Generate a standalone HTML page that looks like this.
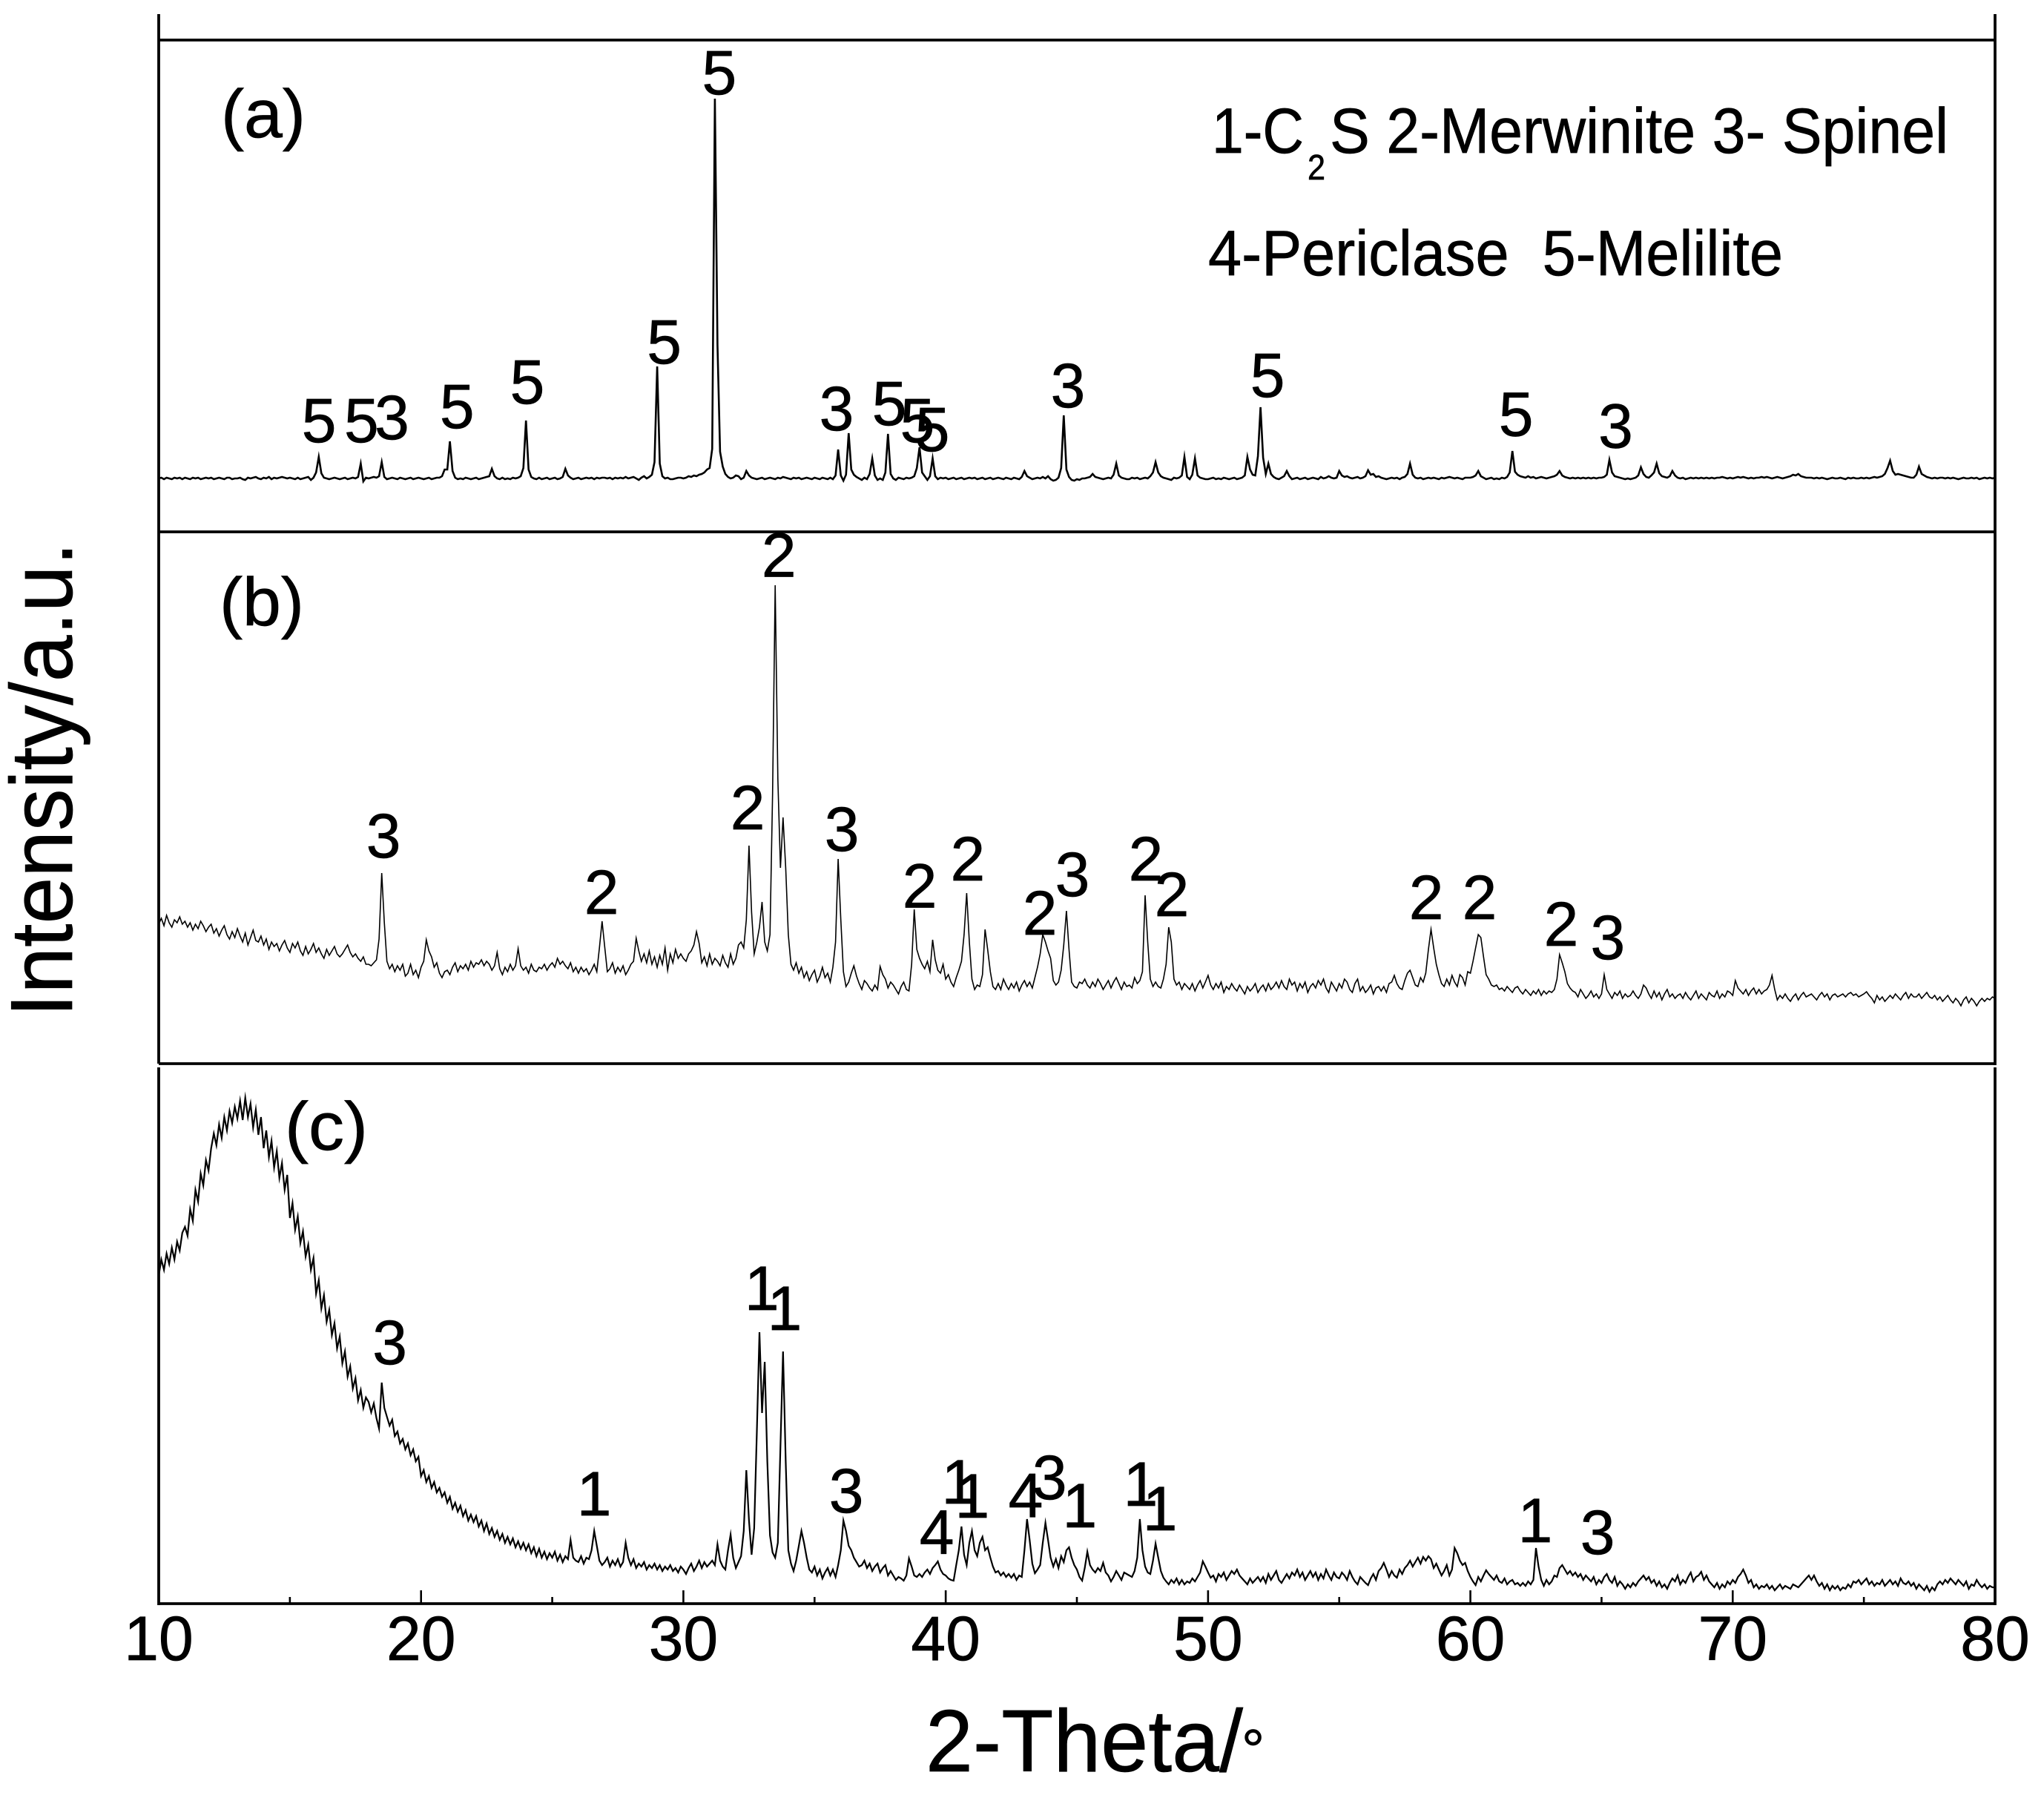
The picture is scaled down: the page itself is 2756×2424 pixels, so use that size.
<!DOCTYPE html>
<html lang="en">
<head>
<meta charset="utf-8">
<title>XRD patterns of samples a, b and c</title>
<style>
html,body{margin:0;padding:0;background:#fff;}
svg{display:block;}
text{font-family:"Liberation Sans",sans-serif;fill:#000;stroke:#000;stroke-width:0.7;}
</style>
</head>
<body>
<svg id="chart" xmlns="http://www.w3.org/2000/svg" width="2756" height="2424" viewBox="0 0 2756 2424">
  <rect x="0" y="0" width="2756" height="2424" fill="#fff"/>
  <g>
    <text x="1634" y="206" font-size="86" textLength="124" lengthAdjust="spacingAndGlyphs">1-C</text>
    <text x="1763" y="242" font-size="48" textLength="24" lengthAdjust="spacingAndGlyphs">2</text>
    <text x="1793" y="206" font-size="86" textLength="834" lengthAdjust="spacingAndGlyphs">S 2-Merwinite 3- Spinel</text>
    <text x="1629" y="371" font-size="86" textLength="775" lengthAdjust="spacingAndGlyphs" xml:space="preserve">4-Periclase  5-Melilite</text>
  </g>
  <text x="298" y="185" font-size="92" textLength="114" lengthAdjust="spacingAndGlyphs">(a)</text>
  <text x="296" y="843" font-size="92" textLength="114" lengthAdjust="spacingAndGlyphs">(b)</text>
  <text x="384" y="1550" font-size="92" textLength="112" lengthAdjust="spacingAndGlyphs">(c)</text>
  <text transform="translate(97,1371) rotate(-90)" x="0" y="0" font-size="119" textLength="640" lengthAdjust="spacingAndGlyphs">Intensity/a.u.</text>
  <text x="1248" y="2388" font-size="119" textLength="428" lengthAdjust="spacingAndGlyphs">2-Theta/</text>
  <text x="1674" y="2386" font-size="78">°</text>
</svg>
<script>
// Intensity rows: one row per degree of 2-theta, ten readings each (0.1 degree apart), final row is 80.0.
const thetaStart = 10;
const thetaStep = 0.1;
const intensityA = [
/*10*/0,1,-1,1,0,-1,1,0,1,-1,
/*11*/1,0,-1,1,0,1,-1,0,1,0,
/*12*/1,-1,0,1,0,-1,1,1,-1,0,
/*13*/0,1,-1,-2,1,0,1,2,0,-1,
/*14*/1,0,2,-1,1,0,1,2,1,0,
/*15*/1,0,-1,1,-1,0,1,2,-2,1,
/*16*/8,29,7,1,0,-1,0,1,0,-1,
/*17*/0,1,-1,0,1,0,2,20,-4,1,
/*18*/0,1,2,1,3,22,2,-1,0,1,
/*19*/0,-1,1,0,-1,0,1,-1,0,1,
/*20*/0,-1,0,1,-1,0,1,1,3,12,
/*21*/12,50,10,1,-1,0,-1,1,0,-1,
/*22*/0,1,-1,0,1,2,3,13,3,0,
/*23*/-1,1,-1,0,-1,1,0,1,3,14,
/*24*/78,12,2,0,-1,1,-1,0,1,-1,
/*25*/0,1,-1,0,2,13,4,1,-1,0,
/*26*/1,-1,0,1,0,1,-1,1,0,1,
/*27*/1,0,1,-1,1,0,1,0,2,0,
/*28*/1,2,0,-2,1,3,0,2,5,22,
/*29*/151,20,3,0,1,-1,-1,0,1,1,
/*30*/0,1,3,2,4,3,5,6,8,12,
/*31*/14,40,512,180,36,16,6,2,0,1,
/*32*/4,3,-1,1,10,4,1,0,-1,0,
/*33*/1,-1,0,1,0,-1,1,0,2,1,
/*34*/0,-1,1,0,1,-1,0,1,0,-1,
/*35*/1,0,-1,1,0,-1,1,-1,4,39,
/*36*/4,-3,5,61,12,5,2,0,-2,1,
/*37*/-1,6,27,4,-2,0,-2,8,60,6,
/*38*/0,-2,1,0,-1,1,0,1,3,14,
/*39*/42,8,3,-2,3,27,3,-1,1,0,
/*40*/1,-1,0,1,-1,0,1,-1,0,1,
/*41*/0,1,-1,0,1,-1,0,1,-1,0,
/*42*/1,0,-1,1,0,-1,1,0,-1,2,
/*43*/10,3,1,-1,0,1,0,2,0,3,
/*44*/-1,-3,-2,1,14,85,12,2,-2,-3,
/*45*/-1,-2,0,0,1,2,6,2,1,0,
/*46*/-1,0,1,0,5,20,4,1,0,-1,
/*47*/-1,1,0,1,-1,0,1,0,3,8,
/*48*/22,8,3,1,0,-1,-2,1,0,1,
/*49*/4,29,2,-1,5,27,4,1,0,-1,
/*50*/-1,0,1,-1,0,-1,1,0,-1,0,
/*51*/1,-1,0,1,4,29,12,5,4,30,
/*52*/96,28,6,20,6,2,0,-1,1,3,
/*53*/10,3,-1,0,1,-1,0,1,-1,0,
/*54*/1,0,-1,2,0,1,3,1,0,1,
/*55*/10,4,2,3,1,0,1,2,0,1,
/*56*/3,11,5,6,2,3,1,0,-1,0,
/*57*/1,0,1,-1,1,2,6,20,5,1,
/*58*/0,1,-1,0,1,0,1,0,-1,1,
/*59*/0,1,2,1,0,1,0,-1,1,1,
/*60*/1,2,4,10,3,1,-1,0,1,-1,
/*61*/0,-1,1,0,2,8,37,9,5,3,
/*62*/2,1,3,1,2,0,1,2,1,0,
/*63*/1,2,3,5,10,4,2,1,0,1,
/*64*/0,1,0,1,0,1,0,1,0,1,
/*65*/1,2,5,25,8,3,2,1,0,-1,
/*66*/0,-1,0,1,4,15,6,2,1,4,
/*67*/8,20,7,3,2,1,3,10,4,1,
/*68*/0,1,-1,0,1,0,1,0,1,0,
/*69*/1,0,1,0,1,1,2,1,0,1,
/*70*/0,1,2,1,2,1,0,1,0,1,
/*71*/1,2,1,2,1,0,1,2,1,0,
/*72*/1,2,3,5,4,6,3,2,1,1,
/*73*/1,0,1,0,1,0,-1,0,1,0,
/*74*/0,1,0,-1,1,0,1,0,0,1,
/*75*/0,1,0,1,2,1,2,3,6,14,
/*76*/24,10,5,6,5,4,3,2,1,1,
/*77*/5,16,6,4,2,1,0,1,0,1,
/*78*/1,0,1,0,1,0,-1,0,1,0,
/*79*/0,1,0,1,-1,0,1,0,1,0,
/*80*/1];
const intensityB = [
/*10*/124,132,122,136,126,120,130,126,134,124,
/*11*/128,120,126,116,124,118,128,122,114,120,
/*12*/124,112,118,108,116,122,110,104,114,106,
/*13*/118,108,100,112,96,106,116,102,100,108,
/*14*/96,104,90,100,94,98,88,96,102,92,
/*15*/86,98,92,100,88,82,94,84,90,98,
/*16*/86,92,84,78,90,82,88,94,84,80,
/*17*/84,90,96,86,80,84,78,74,80,70,
/*18*/70,68,72,76,104,193,126,74,64,70,
/*19*/60,68,62,70,54,58,70,56,62,52,
/*20*/66,74,103,88,80,66,72,58,52,60,
/*21*/62,56,66,72,60,68,64,70,62,74,
/*22*/66,72,70,76,68,74,70,62,68,86,
/*23*/64,56,66,60,70,62,68,91,68,62,
/*24*/66,58,70,62,60,66,64,70,62,68,
/*25*/72,66,78,70,74,68,64,72,60,66,
/*26*/58,66,60,64,56,62,70,60,92,128,
/*27*/94,60,64,72,58,66,60,68,56,62,
/*28*/70,74,105,88,74,84,72,88,70,80,
/*29*/66,82,70,92,62,84,72,90,78,84,
/*30*/78,74,84,88,96,114,98,72,80,68,
/*31*/84,70,78,74,68,82,72,66,84,70,
/*32*/78,96,100,92,130,230,140,84,100,120,
/*33*/154,100,88,110,300,581,320,200,268,200,
/*34*/110,70,62,72,58,66,52,60,48,56,
/*35*/62,46,54,66,52,58,46,66,100,212,
/*36*/130,60,40,46,58,68,54,44,36,48,
/*37*/44,38,34,42,36,67,56,50,38,46,
/*38*/42,36,30,40,46,36,34,70,144,90,
/*39*/78,70,64,74,60,103,76,62,58,70,
/*40*/50,56,46,40,52,62,74,110,166,100,
/*41*/50,36,42,40,56,117,90,60,40,36,
/*42*/44,36,50,42,36,44,38,46,34,42,
/*43*/48,40,46,38,52,66,84,110,100,88,
/*44*/78,48,42,46,62,96,142,90,46,40,
/*45*/38,46,44,50,42,38,46,40,50,44,
/*46*/36,42,48,38,46,52,44,36,46,40,
/*47*/42,38,52,44,48,60,163,100,50,40,
/*48*/46,40,38,50,70,120,100,50,42,46,
/*49*/36,44,40,36,44,34,42,48,38,46,
/*50*/55,42,36,44,38,46,32,40,36,44,
/*51*/38,34,42,36,30,40,34,38,44,32,
/*52*/38,42,34,44,36,40,46,38,48,40,
/*53*/36,50,42,46,34,44,38,46,32,40,
/*54*/44,38,48,42,50,38,32,46,40,34,
/*55*/44,38,50,46,36,32,44,50,34,40,
/*56*/32,36,42,30,38,40,34,40,32,44,
/*57*/46,55,44,38,36,48,58,62,52,42,
/*58*/40,52,46,58,90,117,92,70,56,44,
/*59*/40,50,42,55,46,40,56,52,42,60,
/*60*/58,74,92,110,106,80,56,50,42,40,
/*61*/42,36,38,34,40,36,32,38,40,34,
/*62*/30,36,32,28,34,30,36,28,34,30,
/*63*/34,32,36,50,83,72,60,44,38,34,
/*64*/32,26,36,30,24,28,34,26,30,24,
/*65*/30,56,36,30,24,32,28,34,24,30,
/*66*/26,28,34,28,24,30,42,38,30,24,
/*67*/34,26,32,22,30,36,26,30,24,28,
/*68*/30,24,32,26,22,28,34,24,30,26,
/*69*/22,32,28,26,34,24,30,26,34,32,
/*70*/28,48,38,34,30,36,28,34,38,30,
/*71*/36,30,34,36,42,55,36,22,28,24,
/*72*/30,24,20,26,30,22,28,32,26,28,
/*73*/30,26,22,28,32,26,30,22,28,30,
/*74*/26,28,30,26,30,32,28,30,26,28,
/*75*/30,33,28,24,18,28,22,26,20,24,
/*76*/28,24,30,26,22,28,32,24,30,26,
/*77*/26,30,24,28,32,26,24,28,22,26,
/*78*/20,24,28,22,18,24,20,14,22,26,
/*79*/18,24,20,14,20,24,20,24,22,26,
/*80*/24];
const intensityC = [
/*10*/440,462,448,470,456,478,462,486,474,498,
/*11*/506,494,530,514,556,540,578,562,596,582,
/*12*/612,632,616,644,626,654,636,662,646,668,
/*13*/652,676,650,680,654,672,640,664,630,654,
/*14*/612,636,600,622,586,608,572,592,556,576,
/*15*/518,538,502,520,484,500,466,482,448,464,
/*16*/416,434,396,414,378,394,360,376,342,358,
/*17*/322,338,304,318,288,302,272,286,262,276,
/*18*/270,256,268,248,234,296,262,250,238,246,
/*19*/224,230,214,220,206,214,198,206,190,196,
/*20*/170,178,162,170,154,162,148,154,142,148,
/*21*/134,142,126,134,122,130,116,124,110,118,
/*22*/108,116,102,110,96,106,92,100,88,96,
/*23*/84,92,80,88,78,86,74,82,72,80,
/*24*/70,78,66,74,62,72,60,68,58,66,
/*25*/60,68,56,64,54,62,58,84,60,56,
/*26*/54,62,52,60,58,70,96,76,56,50,
/*27*/54,60,48,56,50,58,48,54,80,60,
/*28*/50,58,46,52,48,54,44,50,46,52,
/*29*/44,50,42,48,44,50,42,46,40,48,
/*30*/44,38,46,52,42,48,56,46,54,48,
/*31*/52,56,50,78,56,48,44,70,91,60,
/*32*/46,54,62,96,178,110,64,100,230,364,
/*33*/255,324,190,90,67,60,80,210,338,190,
/*34*/70,52,42,56,76,96,80,60,44,40,
/*35*/48,36,44,32,40,46,36,44,34,50,
/*36*/70,110,96,76,70,60,54,48,50,56,
/*37*/46,52,42,48,52,40,46,50,36,42,
/*38*/36,30,34,32,29,36,59,48,36,34,
/*39*/38,34,40,44,38,46,50,55,44,38,
/*40*/36,32,30,29,50,70,102,64,50,80,
/*41*/96,70,62,80,88,70,74,60,48,40,
/*42*/42,36,40,34,38,33,38,30,36,34,
/*43*/70,112,84,52,39,44,50,80,107,84,
/*44*/60,48,58,46,62,54,70,74,60,50,
/*45*/44,34,29,46,68,50,44,40,46,42,
/*46*/53,40,36,28,34,42,36,30,40,38,
/*47*/36,34,42,60,112,70,48,40,38,56,
/*48*/79,60,42,33,28,24,30,26,32,24,
/*49*/30,24,28,26,32,28,34,40,55,48,
/*50*/40,33,36,28,38,34,40,30,36,42,
/*51*/38,44,36,32,28,24,32,26,30,34,
/*52*/28,34,26,38,30,36,42,30,26,32,
/*53*/38,32,40,36,44,34,40,30,36,42,
/*54*/34,40,30,38,32,44,36,30,40,34,
/*55*/32,40,36,30,42,34,28,24,34,30,
/*56*/26,23,32,38,30,42,46,53,44,34,
/*57*/42,36,33,44,38,46,50,56,48,54,
/*58*/60,52,61,56,62,58,46,52,44,36,
/*59*/42,50,36,44,73,66,56,50,53,42,
/*60*/34,28,23,34,28,36,43,38,34,30,
/*61*/36,28,26,32,24,28,30,24,26,22,
/*62*/26,22,28,24,30,73,48,30,22,30,
/*63*/24,28,36,34,46,50,44,38,42,36,
/*64*/40,34,38,30,36,32,28,34,24,30,
/*65*/26,34,38,30,26,34,22,28,24,18,
/*66*/24,20,26,22,28,32,36,30,34,26,
/*67*/30,22,28,20,24,18,26,32,28,36,
/*68*/24,30,26,34,40,28,34,36,41,30,
/*69*/36,28,24,20,26,18,24,20,28,24,
/*70*/30,26,34,38,44,36,26,30,20,24,
/*71*/18,22,20,24,18,22,16,20,24,18,
/*72*/22,20,18,24,22,20,24,28,32,36,
/*73*/30,36,28,22,26,18,24,16,22,18,
/*74*/22,16,20,18,24,20,28,26,30,24,
/*75*/28,32,24,28,22,26,24,30,22,26,
/*76*/30,24,28,22,32,26,24,28,22,26,
/*77*/18,24,20,16,22,14,20,16,24,28,
/*78*/24,30,26,32,28,24,30,26,22,28,
/*79*/18,24,22,30,24,20,24,18,22,20,
/*80*/20];
// Phase annotations: [phase number, 2-theta, intensity at the text baseline]
const peakLabelsA = [["5",16.11,49],["5",17.73,49],["3",18.89,53],["5",21.37,68],["5",24.05,101],["5",29.27,155],["5",31.37,518],["3",35.84,65],["5",37.85,72],["5",38.92,49],["5",39.49,37],["3",44.66,96],["5",52.27,110],["5",61.74,57.5],["3",65.54,41.5]];
const peakLabelsB = [["2",33.64,592.5],["3",18.57,214],["2",26.88,138],["2",32.45,252],["3",36.04,223],["2",39.01,146.5],["2",40.84,183],["2",43.59,110],["3",44.83,162],["2",47.63,183],["2",48.62,135],["2",58.32,131],["2",60.35,131],["2",63.46,95],["3",65.24,77]];
const peakLabelsC = [["3",18.81,321],["1",26.6,117],["1",32.99,394],["1",33.86,367],["3",36.21,121],["4",39.66,65.5],["1",40.5,133],["1",41.01,114],["4",43.05,115],["3",43.96,139],["1",45.11,101],["1",47.43,130],["1",48.17,97],["1",62.47,81],["3",64.85,65]];
const majorTicks = [10,20,30,40,50,60,70,80];
const minorTicks = [15,25,35,45,55,65,75];

const svg = document.getElementById('chart');
const NS = 'http://www.w3.org/2000/svg';
const plotLeft = 214, plotRight = 2690, axisBottom = 2162;
const xAxis = t => plotLeft + (t - 10) * (plotRight - plotLeft) / 70;
const yAxisA = v => 645 - v;
const yAxisB = v => 1370 - v;
const yAxisC = v => 2160 - v;

function make(tag, attrs, parent) {
  const el = document.createElementNS(NS, tag);
  for (const k in attrs) el.setAttribute(k, attrs[k]);
  (parent || svg).appendChild(el);
  return el;
}
function axisLine(x1, y1, x2, y2, name, width) {
  const el = make('line', {x1: x1, y1: y1, x2: x2, y2: y2, stroke: '#000', 'stroke-width': width || 3.8});
  
  
}
axisLine(plotLeft, 19, plotLeft, 1434, 'left-axis-upper');
axisLine(plotLeft, 1439, plotLeft, axisBottom + 2, 'left-axis-lower');
axisLine(plotRight, 19, plotRight, 1436, 'right-axis-upper');
axisLine(plotRight, 1439, plotRight, axisBottom + 2, 'right-axis-lower');
axisLine(plotLeft, 54, plotRight, 54, 'panel-a-top-border');
axisLine(plotLeft, 717, plotRight, 717, 'panel-a-b-divider');
axisLine(plotLeft, 1434, plotRight, 1434, 'panel-b-c-divider');
axisLine(plotLeft, axisBottom, plotRight, axisBottom, 'x-axis-line');

majorTicks.forEach(t => {
  axisLine(xAxis(t), axisBottom - 18, xAxis(t), axisBottom, 'x-major-tick-' + t, 2.6);
  const lab = make('text', {x: xAxis(t), y: 2238, 'font-size': 84, 'text-anchor': 'middle'});
  lab.textContent = String(t);
  
  
});
minorTicks.forEach(t => {
  axisLine(xAxis(t), axisBottom - 9, xAxis(t), axisBottom, 'x-minor-tick-' + t, 2.6);
});

function drawPattern(values, yAxis, width, name) {
  const pts = values.map((v, i) => xAxis(thetaStart + i * thetaStep).toFixed(1) + ',' + yAxis(v).toFixed(1)).join(' ');
  const line = make('polyline', {points: pts, fill: 'none', stroke: '#000', 'stroke-width': width, 'stroke-linejoin': 'miter', 'stroke-miterlimit': 8});
  
  
}
drawPattern(intensityA, yAxisA, 2.6, 'pattern-a-line');
drawPattern(intensityB, yAxisB, 1.6, 'pattern-b-line');
drawPattern(intensityC, yAxisC, 2.2, 'pattern-c-line');

function drawLabels(labels, yAxis, panel) {
  labels.forEach((d, i) => {
    const t = make('text', {x: xAxis(d[1]), y: yAxis(d[2]), 'font-size': 84, 'text-anchor': 'middle'});
    t.textContent = d[0];
    
    
  });
}
drawLabels(peakLabelsA, yAxisA, 'panel-a');
drawLabels(peakLabelsB, yAxisB, 'panel-b');
drawLabels(peakLabelsC, yAxisC, 'panel-c');
</script>
</body>
</html>
